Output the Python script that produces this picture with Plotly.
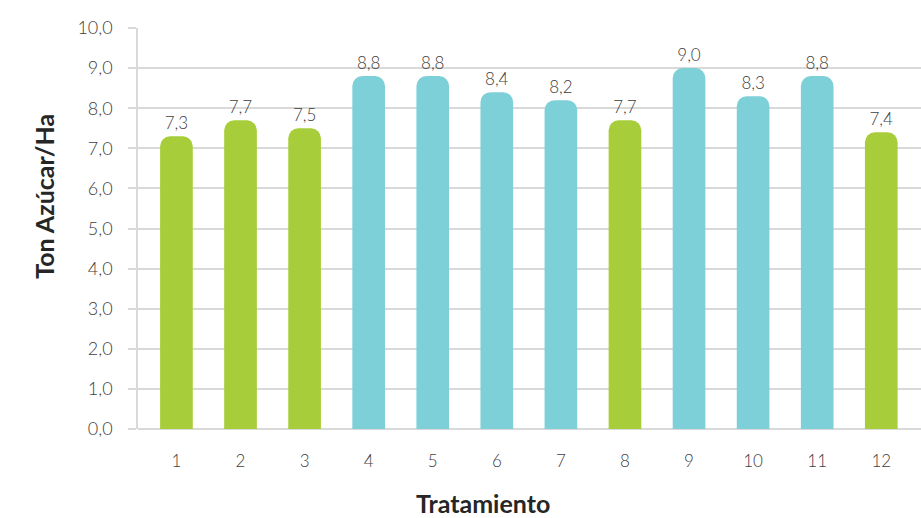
import plotly.graph_objects as go

tratamientos = ["1", "2", "3", "4", "5", "6", "7", "8", "9", "10", "11", "12"]
ton_azucar = [7.3, 7.7, 7.5, 8.8, 8.8, 8.4, 8.2, 7.7, 9.0, 8.3, 8.8, 7.4]
grupo = ["g", "g", "g", "c", "c", "c", "c", "g", "c", "c", "c", "g"]
y_ticks = [0, 1, 2, 3, 4, 5, 6, 7, 8, 9, 10]
x_title = "Tratamiento"
y_title = "Ton Azúcar/Ha"

GREEN = "#a8cd3a"
CYAN = "#7dd0d8"
colors = [GREEN if g == "g" else CYAN for g in grupo]

fig = go.Figure(go.Bar(
    x=tratamientos,
    y=ton_azucar,
    width=0.51,
    marker=dict(color=colors, cornerradius=10, line=dict(width=0)),
    texttemplate="%{y:.1f}",
    textposition="outside",
    textfont=dict(family="Lato", size=17, color="#404040", weight=300),
    cliponaxis=False,
))

fig.update_layout(
    width=921, height=518,
    margin=dict(l=138, r=0, t=28, b=89),
    plot_bgcolor="white", paper_bgcolor="white",
    separators=",.",
    showlegend=False,
    font=dict(family="Lato", color="#404040"),
    xaxis=dict(
        type="category",
        range=[-0.6, 11.62],
        showgrid=False,
        ticks="outside", ticklen=17, tickcolor="rgba(0,0,0,0)",
        tickfont=dict(family="Lato", size=17, color="#404040", weight=300),
        showline=False, zeroline=False,
    ),
    yaxis=dict(
        range=[0, 10],
        tickvals=y_ticks,
        tickformat=".1f",
        showgrid=True, gridcolor="#d9d9d9", gridwidth=1.5,
        ticks="outside", ticklen=8, tickcolor="#d9d9d9", tickwidth=1.5,
        ticklabelstandoff=12,
        tickfont=dict(family="Lato", size=18, color="#404040", weight=300),
        showline=True, linecolor="#d9d9d9", linewidth=1.5,
        zeroline=True, zerolinecolor="#d9d9d9", zerolinewidth=2,
    ),
    annotations=[
        dict(text=x_title, xref="paper", yref="paper", x=0.4406, y=-0.184,
             xanchor="center", yanchor="middle", showarrow=False,
             font=dict(family="Lato", size=25, color="#262626", weight="bold")),
        dict(text=y_title, xref="paper", yref="paper", x=-0.12, y=0.579,
             xanchor="center", yanchor="middle", showarrow=False, textangle=-90,
             font=dict(family="Lato", size=25, color="#262626", weight="bold")),
    ],
)

fig.write_html("out.html")
